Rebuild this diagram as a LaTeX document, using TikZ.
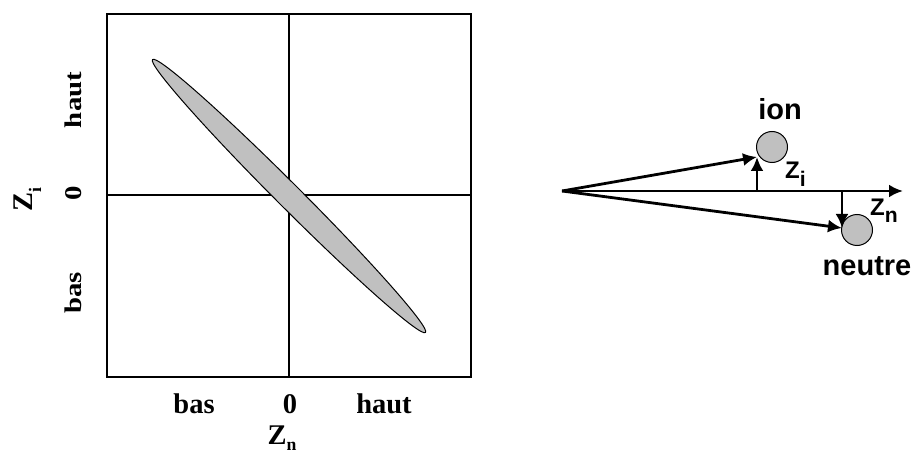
\documentclass[tikz,border=0pt]{standalone}
\usepackage{fontspec}
\setmainfont{Liberation Serif}
\newfontfamily\arialfont{Liberation Sans}
\usetikzlibrary{arrows.meta}
\definecolor{blobgray}{RGB}{192,192,192}
\tikzset{
  serlabel/.style={font=\fontsize{28.5}{30}\selectfont\bfseries, inner sep=0pt, anchor=base},
  vlabel/.style={font=\fontsize{24}{26}\selectfont\bfseries, inner sep=0pt, anchor=base, rotate=90},
  sanlabel/.style={font=\arialfont\fontsize{29}{31}\selectfont\bfseries, inner sep=0pt, anchor=base},
  zlabel/.style={font=\arialfont\fontsize{24}{26}\selectfont\bfseries, inner sep=0pt, anchor=base west},
  vecarrow/.style={line width=2.8pt, -{Latex[length=14pt,width=13pt]}},
  particle/.style={circle, draw, line width=1pt, fill=blobgray, minimum size=31pt, inner sep=0pt}
}
\newcommand*\lowsub[3][.68]{\raisebox{-#2}{\scalebox{#1}{#3}}}
\newcommand*\widetext[1]{\scalebox{1.2}[1]{#1}}

\begin{document}
\begin{tikzpicture}[x=1pt, y=-1pt]
\useasboundingbox (0,0) rectangle (913,457);

% correlation plot
\draw[line width=2pt] (107,14) rectangle (471,377);
\draw[line width=1.2pt] (289,14) -- (289,377);
\draw[line width=1.2pt] (107,195) -- (471,195);
\draw[line width=1pt, fill=blobgray, rotate around={-45:(289,196)}]
  (289,196) ellipse [x radius=193pt, y radius=12pt];

\node[serlabel] (nbas)  at (194,413) {bas};
\node[serlabel] (nzero) at (290,413) {0};
\node[serlabel] (nhaut) at (384,413) {haut};
\node[serlabel] (zn)    at (282,444) {Z\lowsub[.62]{6pt}{n}};

\node[vlabel] (ihaut) at (81,100) {\widetext{haut}};
\node[vlabel] (izero) at (81,193) {\widetext{0}};
\node[vlabel] (ibas)  at (81,293) {\widetext{bas}};
\node[serlabel, rotate=90] (zi) at (32,200) {Z\lowsub[.62]{9pt}{i}};

% displacement sketch
\coordinate (orig) at (562,191);
\coordinate (axend) at (903,191);
\node[particle] (ion) at (772,147) {};
\node[particle] (neu) at (857,230) {};
\coordinate (pion) at (757,157);
\coordinate (pneu) at (842,228);

\draw[vecarrow] (orig) -- (axend);
\draw[vecarrow] (orig) -- (pion);
\draw[vecarrow] (orig) -- (pneu);
\draw[vecarrow] (pion |- orig) -- (pion);
\draw[vecarrow] (pneu |- orig) -- (pneu);

\node[sanlabel] (lion) at (780,120) {ion};
\node[sanlabel] (lneu) at (867,275) {neutre};
\node[zlabel] (lzi) at (785,179) {Z\lowsub[.88]{8pt}{i}};
\node[zlabel] (lzn) at (870,215) {Z\lowsub[.88]{8pt}{n}};
\end{tikzpicture}
\end{document}
